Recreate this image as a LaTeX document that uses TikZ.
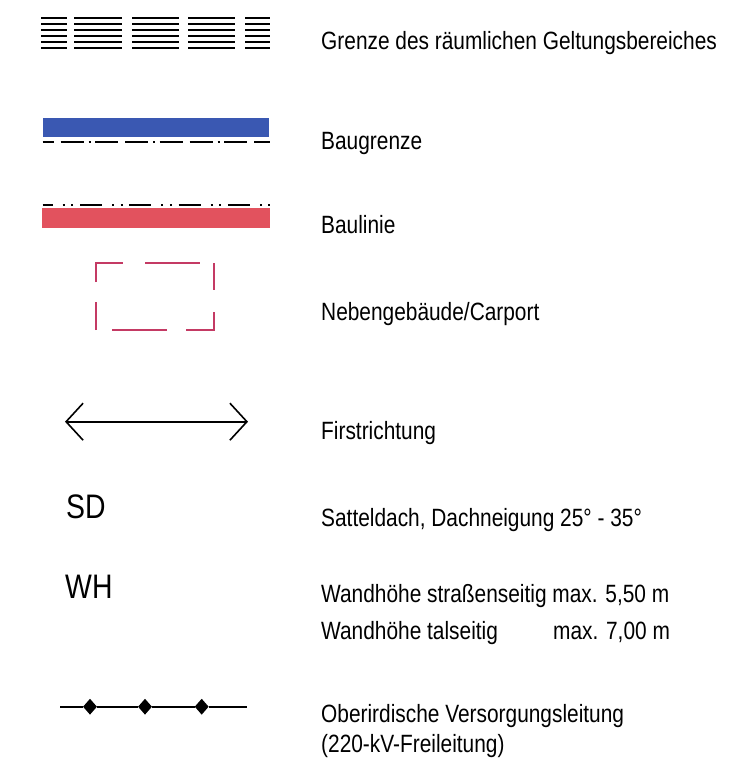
\documentclass[tikz,border=0pt]{standalone}
\usepackage{fontspec}
\setmainfont{Liberation Sans}[FakeStretch=0.835]
\usetikzlibrary{arrows.meta,shapes.geometric}
\definecolor{grenzblau}{RGB}{58,88,178}
\definecolor{linienrot}{RGB}{226,82,94}
\definecolor{carportrot}{RGB}{196,58,100}

\begin{document}
\begin{tikzpicture}[x=1pt,y=-1pt,
  legtext/.style={anchor=base west,inner sep=0pt,font=\fontsize{25}{30}\selectfont},
  symtext/.style={anchor=base west,inner sep=0pt,font=\fontsize{34}{38}\selectfont},
  mast/.style={diamond,fill=black,inner sep=0pt,minimum width=14pt,minimum height=16pt}]
  \useasboundingbox (0,0) rectangle (747,763);

  % Geltungsbereich
  \foreach \xa/\xb in {41/67,74/122,132/179,188/235,245/270}
    \foreach \i in {0,...,5}
      \draw[line width=2.4pt] (\xa,18+6*\i) -- (\xb,18+6*\i);
  \node[legtext] (grenze) at (321,49) {Grenze des räumlichen Geltungsbereiches};

  % Baugrenze
  \fill[grenzblau] (43,118) rectangle (269,137);
  \draw[line width=2.6pt,dash pattern=on 23pt off 7pt on 23pt off 5pt on 2pt off 4.5pt,dash phase=12.2pt]
    (42.7,142) -- (270,142);
  \node[legtext] (baugrenze) at (321,149) {Baugrenze};

  % Baulinie
  \draw[line width=2.6pt,dash pattern=on 22pt off 10pt on 2pt off 6.5pt on 2pt off 6.8pt,dash phase=12pt]
    (42.7,205) -- (270,205);
  \fill[linienrot] (42,208) rectangle (270,228);
  \node[legtext] (baulinie) at (321,233) {Baulinie};

  % Nebengebaeude
  \begin{scope}[carportrot,line width=2pt]
    \draw (96,282) -- (96,263) -- (123,263);
    \draw (145,263) -- (200,263);
    \draw (214,263) -- (214,290);
    \draw (214,312) -- (214,330) -- (186,330);
    \draw (167,330) -- (112,330);
    \draw (96,330) -- (96,302);
  \end{scope}
  \node[legtext] (carport) at (321,320) {Nebengebäude/Carport};

  % Firstrichtung
  \coordinate (firstL) at (65,421.7);
  \coordinate (firstR) at (248,421.7);
  \draw[line width=1.6pt,{Straight Barb[length=17pt,width=37pt]}-{Straight Barb[length=17pt,width=37pt]}]
    (firstL) -- (firstR);
  \node[legtext] (first) at (321,439) {Firstrichtung};

  % Dach
  \node[symtext] (sd) at (66,518) {SD};
  \node[legtext] (dach) at (321,526) {Satteldach, Dachneigung 25° - 35°};

  % Wandhoehe
  \node[symtext] (wh) at (65,598) {WH};
  \node[legtext] (wand1) at (321,602) {Wandhöhe straßenseitig max. 5,50 m};
  \node[legtext] (wand2) at (321,639) {\makebox[232pt][l]{Wandhöhe talseitig}max. 7,00 m};

  % Freileitung
  \node[mast] (m1) at (90,706.7) {};
  \node[mast] (m2) at (145,706.7) {};
  \node[mast] (m3) at (201.7,706.7) {};
  \coordinate (leitL) at (60,706.7);
  \coordinate (leitR) at (246.7,706.7);
  \draw[line width=2pt] (leitL) -- (m1) -- (m2) -- (m3) -- (leitR);
  \node[legtext] (leitung) at (321,722) {Oberirdische Versorgungsleitung};
  \node[legtext] (kv) at (321,752) {(220-kV-Freileitung)};
\end{tikzpicture}
\end{document}
